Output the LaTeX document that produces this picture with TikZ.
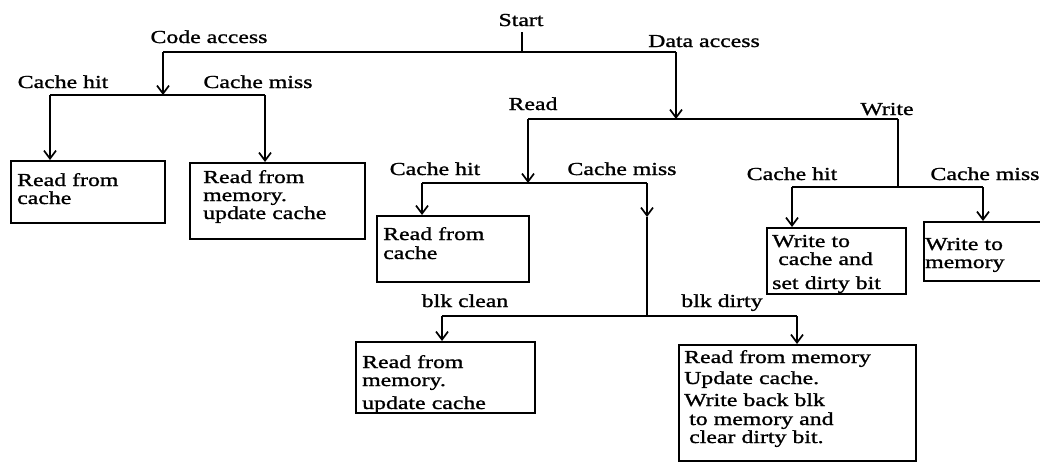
\documentclass[tikz,border=0pt]{standalone}
\usepackage{fontspec}
\newfontfamily\scanfont[FakeStretch=1.3,FakeBold=1.2]{Liberation Serif}
\usetikzlibrary{arrows.meta}
\begin{document}
\begin{tikzpicture}[x=1pt,y=-1pt,
  wire/.style={line width=2.1pt},
  arr/.style={wire,-{Straight Barb[length=8pt,width=12pt,line width=1.7pt]}},
  lbl/.style={font=\scanfont\fontsize{18.3}{18}\selectfont,inner sep=0pt,anchor=base},
  box/.style={draw,line width=2.1pt,anchor=north west,inner sep=0pt},
  boxtext/.style={font=\scanfont\fontsize{18.3}{18}\selectfont,inner sep=0pt,anchor=base west,align=left,text width=300pt}]
\useasboundingbox (0,0) rectangle (1040,463);
\clip (0,0) rectangle (1040,463);

% branch labels
\node[lbl] (start) at (521,26) {Start};
\node[lbl] (lcode) at (209,43) {Code access};
\node[lbl] (ldata) at (704,47) {Data access};
\node[lbl] (lchit) at (63,88) {Cache hit};
\node[lbl] (lcmiss) at (258,88) {Cache miss};
\node[lbl] (lread) at (533,110) {Read};
\node[lbl] (lwrite) at (887,115) {Write};
\node[lbl] (lrhit) at (435,175) {Cache hit};
\node[lbl] (lrmiss) at (622,175) {Cache miss};
\node[lbl] (lwhit) at (792,180) {Cache hit};
\node[lbl] (lwmiss) at (985,180) {Cache miss};
\node[lbl] (lclean) at (465,307) {blk clean};
\node[lbl] (ldirty) at (722,307) {blk dirty};

% result boxes
\node[box,minimum width=154pt,minimum height=62pt] (b1) at (10,160) {};
\node[box,minimum width=175pt,minimum height=76pt] (b2) at (189,162) {};
\node[box,minimum width=152pt,minimum height=66pt] (b3) at (376,215) {};
\node[box,minimum width=179pt,minimum height=71pt] (b4) at (355,341) {};
\node[box,minimum width=237pt,minimum height=116pt] (b5) at (678,344) {};
\node[box,minimum width=139pt,minimum height=66pt] (b6) at (766,227) {};
\node[box,minimum width=130pt,minimum height=59pt] (b7) at (923,221) {};

\node[boxtext] (t1) at (17,186) {Read from\\cache};
\node[boxtext] (t2) at (203,183) {Read from\\memory.\\upd\kern-.5pt ate cache};
\node[boxtext] (t3) at (383,240) {Read from\\[1pt]cache};
\node[boxtext] (t4) at (362,368) {Read from\\memory.\\[5pt]update cache};
\node[boxtext] (t5) at (684,363) {Read from memory\\[3pt]Update cache.\\[4pt]Write back blk\\[1pt]\hspace{5pt}to memory and\\\hspace{5pt}clear dirty bit.};
\node[boxtext] (t6) at (772,247) {Write to\\\hspace{6pt}cache and\\[6pt]set dirty bit};
\node[boxtext] (t7) at (925,250) {Write to\\memory};

% junction points
\coordinate (top) at (522,52);
\coordinate (ctop) at (163,52);
\coordinate (dtop) at (676,52);
\coordinate (cbar) at (163,95);
\coordinate (cl) at (50,95);
\coordinate (cr) at (265,95);
\coordinate (dbar) at (676,119);
\coordinate (rd) at (528,119);
\coordinate (wr) at (898,119);
\coordinate (rbar) at (528,183);
\coordinate (rl) at (422,183);
\coordinate (rr) at (647,183);
\coordinate (rmid) at (647,217);
\coordinate (mbar) at (647,316);
\coordinate (ml) at (442,316);
\coordinate (mr) at (797,316);
\coordinate (wbar) at (898,187);
\coordinate (wl) at (792,187);
\coordinate (wrr) at (983,187);

% start and top split
\draw[wire] (522,32) -- (top);
\draw[wire] (ctop) -- (dtop);
\draw[arr] (ctop) -- (cbar);
\draw[arr] (dtop) -- (dbar);

% code access
\draw[wire] (cl) -- (cr);
\draw[arr] (cl) -- (cl |- b1.north);
\draw[arr] (cr) -- (cr |- b2.north);

% data access: read / write
\draw[wire] (rd) -- (wr);
\draw[arr] (rd) -- (rbar);
\draw[wire] (wr) -- (wbar);

% read hit / miss
\draw[wire] (rl) -- (rr);
\draw[arr] (rl) -- (rl |- b3.north);
\draw[arr] (rr) -- (rmid);
\draw[wire] (rmid) -- (mbar);

% miss: clean / dirty block
\draw[wire] (ml) -- (mr);
\draw[arr] (ml) -- (ml |- b4.north);
\draw[arr] (mr) -- (mr |- b5.north);

% write hit / miss
\draw[wire] (wl) -- (wrr);
\draw[arr] (wl) -- (wl |- b6.north);
\draw[arr] (wrr) -- (wrr |- b7.north);
\end{tikzpicture}
\end{document}
